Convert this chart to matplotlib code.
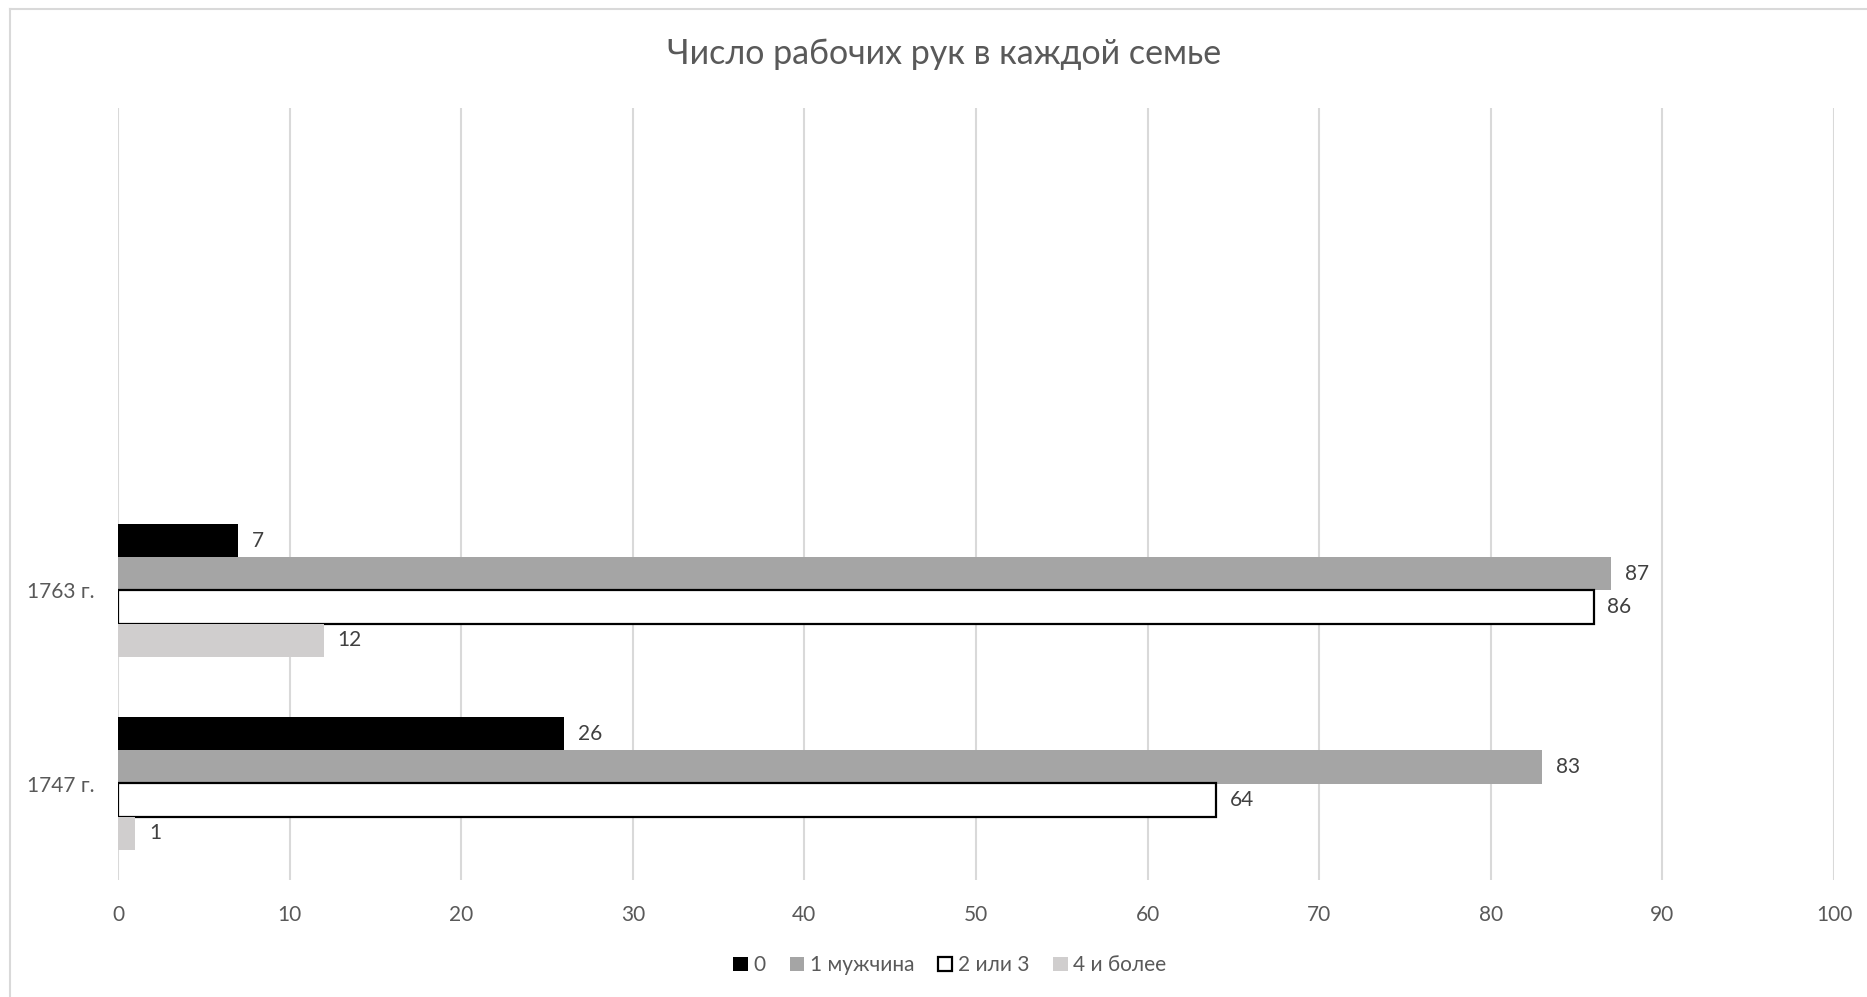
import matplotlib
matplotlib.use("Agg")
import matplotlib.pyplot as plt
from matplotlib.lines import Line2D
from matplotlib.patches import Patch
import numpy as np

plt.rcParams['font.family'] = ['Lato', 'DejaVu Sans']

title = "Число рабочих рук в каждой семье"
categories = ["1747 г.", "1763 г.", "", ""]
series_names = ["0", "1 мужчина", "2 или 3", "4 и более"]
values = {
    "0": [26, 7],
    "1 мужчина": [83, 87],
    "2 или 3": [64, 86],
    "4 и более": [1, 12],
}
face_colors = ["#000000", "#A5A5A5", "#FFFFFF", "#D0CECE"]
edge_colors = ["none", "none", "#000000", "none"]
xticks = list(range(0, 101, 10))

W, H = 1867, 997
fig = plt.figure(figsize=(W / 100, H / 100), dpi=100)
ax = fig.add_axes([118 / W, 1 - 880 / H, (1834 - 118) / W, (880 - 108) / H])

n_cat = len(categories)
bar_h = 0.172
text_color = "#595959"
fs = 15

for i, name in enumerate(series_names):
    vals = values[name]
    ys = np.arange(len(vals)) + (1.5 - i) * bar_h
    lw = 1.6 if edge_colors[i] != "none" else 0
    ax.barh(ys, vals, height=bar_h, color=face_colors[i],
            edgecolor=edge_colors[i], linewidth=lw, zorder=3)
    for y, v in zip(ys, vals):
        ax.text(v + 0.8, y, str(v), va="center", ha="left",
                fontsize=fs, color="#404040", zorder=4)

ax.set_ylim(-0.5, n_cat - 0.5)
ax.set_xlim(0, 100)
ax.set_xticks(xticks)
ax.set_xticklabels([str(t) for t in xticks], fontsize=fs, color=text_color)
ax.set_yticks(range(n_cat))
ax.set_yticklabels(categories, fontsize=fs, color=text_color)
ax.tick_params(axis="both", length=0)
ax.tick_params(axis="x", pad=18)
ax.tick_params(axis="y", pad=17)
ax.grid(axis="x", color="#D9D9D9", linewidth=1.5, zorder=0)
for s in ax.spines.values():
    s.set_visible(False)

fig.text(944 / W, 1 - 54 / H, title, ha="center", va="center",
         fontsize=24.5, color=text_color)

handles = []
for i, name in enumerate(series_names):
    handles.append(Patch(facecolor=face_colors[i],
                         edgecolor=("#000000" if edge_colors[i] != "none" else face_colors[i]),
                         linewidth=1.6 if edge_colors[i] != "none" else 0))
fig.legend(handles, series_names, loc="center", bbox_to_anchor=(950 / W, 1 - 965 / H),
           ncol=4, frameon=False, fontsize=fs, labelcolor=text_color,
           handlelength=0.68, handleheight=0.68, handletextpad=0.28, columnspacing=1.15)

# chart area border (top and left visible)
fig.add_artist(Line2D([10 / W, 10 / W], [0, 1 - 9.5 / H], transform=fig.transFigure,
                      color="#D9D9D9", linewidth=1.5))
fig.add_artist(Line2D([10 / W, 1], [1 - 9.5 / H, 1 - 9.5 / H], transform=fig.transFigure,
                      color="#D9D9D9", linewidth=1.5))

fig.savefig("out.png", dpi=100, facecolor="white")
